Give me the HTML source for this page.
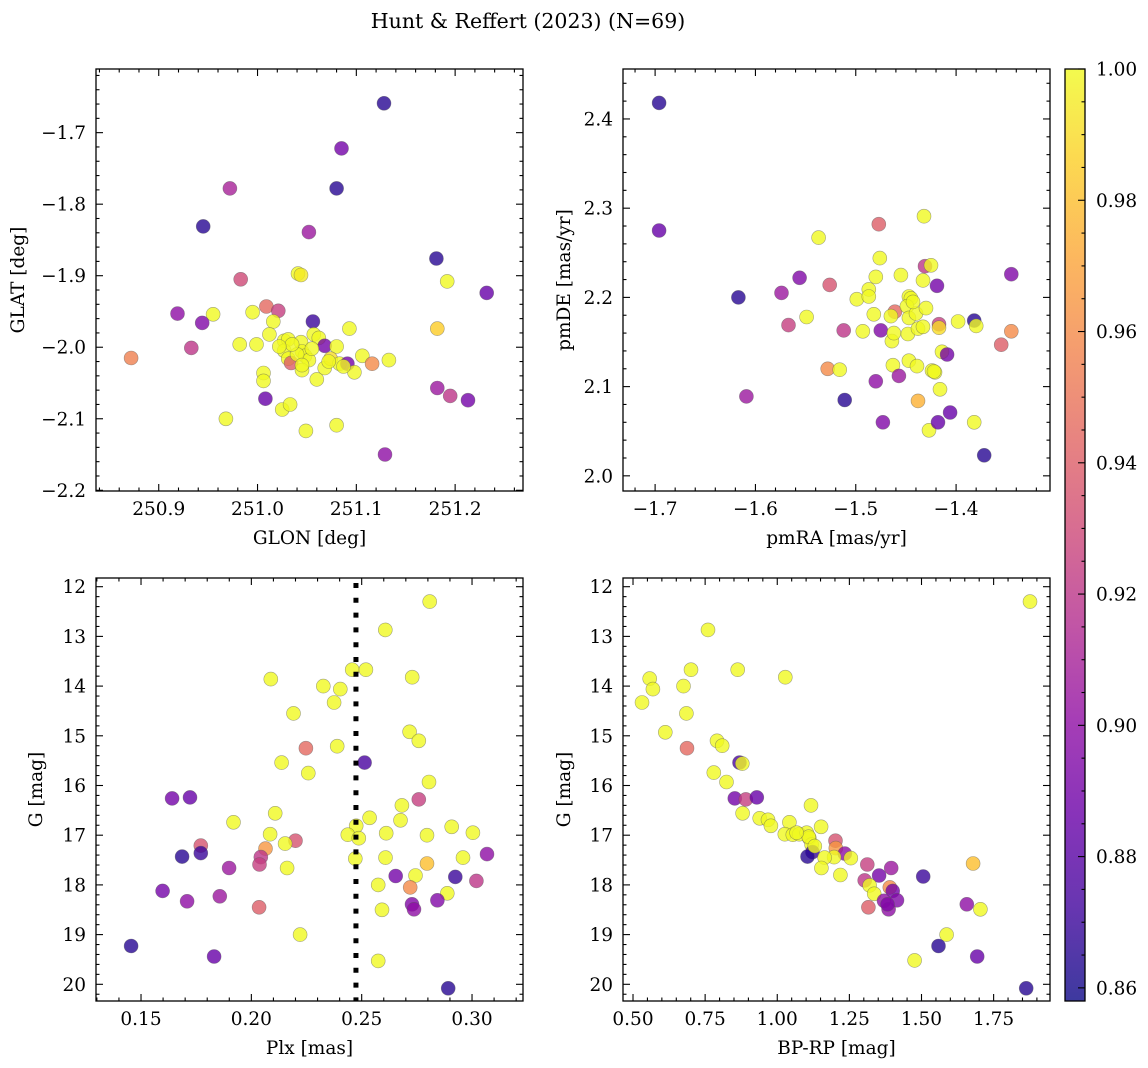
<!DOCTYPE html>
<html><head><meta charset="utf-8"><title>Hunt & Reffert (2023)</title>
<style>
html,body{margin:0;padding:0;background:#fff;}
svg{display:block;font-family:"DejaVu Serif","Liberation Serif",serif;}
</style></head>
<body>
<svg id="fig" width="1148" height="1068" viewBox="0 0 1148 1068" xmlns="http://www.w3.org/2000/svg">
<defs>
<linearGradient id="plasmaGrad" x1="0" y1="1" x2="0" y2="0">
<stop offset="0" stop-color="rgb(13,8,135)"/><stop offset="0.1" stop-color="rgb(65,4,157)"/>
<stop offset="0.2" stop-color="rgb(106,0,168)"/><stop offset="0.3" stop-color="rgb(143,13,164)"/>
<stop offset="0.4" stop-color="rgb(177,42,144)"/><stop offset="0.5" stop-color="rgb(204,71,120)"/>
<stop offset="0.6" stop-color="rgb(225,100,98)"/><stop offset="0.7" stop-color="rgb(242,132,75)"/>
<stop offset="0.8" stop-color="rgb(252,166,54)"/><stop offset="0.9" stop-color="rgb(252,206,37)"/>
<stop offset="1" stop-color="rgb(240,249,33)"/>
</linearGradient>
</defs>
<text x="528" y="28" font-size="20.5" text-anchor="middle">Hunt &amp; Reffert (2023) (N=69)</text>
</svg>
<script>
// ---------- Panel 1: GLON vs GLAT ----------
const p1Lon = [251.128,251.085,251.080,250.972,250.945,251.052,251.181,251.041,251.044,251.192,251.232,250.983,250.919,250.955,250.944,250.995,251.009,251.021,251.016,251.056,251.012,251.093,251.182,250.933,250.872,250.982,250.999,251.027,251.031,251.027,251.044,251.045,251.057,251.062,251.068,251.080,251.031,251.034,251.048,251.052,251.045,251.068,251.074,251.083,251.091,251.098,251.106,251.116,251.133,251.006,251.006,251.060,251.008,251.025,251.033,250.968,251.049,251.080,251.182,251.195,251.213,251.129,251.040,251.055,251.035,251.072,251.045,251.087,251.022];
const p1Lat = [-1.659,-1.722,-1.778,-1.778,-1.831,-1.839,-1.876,-1.897,-1.899,-1.908,-1.924,-1.905,-1.953,-1.954,-1.966,-1.951,-1.943,-1.949,-1.964,-1.964,-1.982,-1.974,-1.974,-2.001,-2.015,-1.996,-1.996,-1.991,-1.989,-2.005,-1.993,-2.006,-1.982,-1.987,-1.998,-1.999,-2.016,-2.022,-2.012,-2.018,-2.032,-2.029,-2.016,-2.023,-2.023,-2.035,-2.012,-2.023,-2.018,-2.036,-2.047,-2.045,-2.072,-2.087,-2.080,-2.100,-2.117,-2.109,-2.057,-2.068,-2.074,-2.150,-2.010,-2.002,-1.996,-2.020,-2.025,-2.027,-1.999];
const p1Prob = [0.865,0.89,0.865,0.91,0.865,0.905,0.865,1,0.995,1,0.885,0.93,0.9,1,0.895,1,0.945,0.925,1,0.87,1,1,0.985,0.92,0.955,1,1,1,1,1,1,1,1,1,0.89,1,1,0.94,1,1,1,1,0.99,1,0.89,1,1,0.96,1,1,1,1,0.885,1,1,1,1,1,0.905,0.92,0.89,0.9,1,1,1,1,1,1,1];
const p1XTicks = [250.9,251.0,251.1,251.2];
const p1XTickLabels = ["250.9","251.0","251.1","251.2"];
const p1YTicks = [-1.7,-1.8,-1.9,-2.0,-2.1,-2.2];
const p1YTickLabels = ["\u22121.7","\u22121.8","\u22121.9","\u22122.0","\u22122.1","\u22122.2"];

// ---------- Panel 2: pmRA vs pmDE ----------
const p2Pmra = [-1.696,-1.696,-1.617,-1.609,-1.574,-1.556,-1.567,-1.549,-1.537,-1.526,-1.528,-1.516,-1.512,-1.511,-1.499,-1.493,-1.487,-1.487,-1.480,-1.482,-1.477,-1.476,-1.475,-1.480,-1.473,-1.461,-1.465,-1.464,-1.462,-1.463,-1.457,-1.455,-1.447,-1.445,-1.449,-1.447,-1.448,-1.447,-1.440,-1.438,-1.439,-1.438,-1.433,-1.430,-1.433,-1.432,-1.431,-1.425,-1.419,-1.417,-1.417,-1.424,-1.421,-1.414,-1.409,-1.416,-1.427,-1.418,-1.406,-1.398,-1.382,-1.380,-1.382,-1.372,-1.355,-1.345,-1.345,-1.422,-1.443];
const p2Pmde = [2.418,2.275,2.200,2.089,2.205,2.222,2.169,2.178,2.267,2.214,2.120,2.119,2.163,2.085,2.198,2.162,2.209,2.201,2.223,2.181,2.282,2.244,2.163,2.106,2.060,2.184,2.179,2.151,2.160,2.124,2.112,2.225,2.201,2.199,2.190,2.177,2.159,2.129,2.182,2.165,2.123,2.084,2.167,2.188,2.219,2.291,2.235,2.236,2.213,2.170,2.166,2.118,2.116,2.139,2.136,2.097,2.051,2.060,2.071,2.173,2.174,2.168,2.060,2.023,2.147,2.162,2.226,2.117,2.195];
const p2Prob = [0.865,0.885,0.865,0.905,0.905,0.895,0.925,1,1,0.935,0.96,1,0.92,0.865,1,1,1,1,1,1,0.94,1,0.895,0.9,0.895,0.945,1,1,1,1,0.905,1,1,1,1,1,1,1,1,1,1,0.975,1,1,1,1,0.92,1,0.89,0.925,0.99,1,1,1,0.89,1,1,0.885,0.885,1,0.865,1,1,0.865,0.94,0.96,0.895,1,1];
const p2XTicks = [-1.7,-1.6,-1.5,-1.4];
const p2XTickLabels = ["\u22121.7","\u22121.6","\u22121.5","\u22121.4"];
const p2YTicks = [2.0,2.1,2.2,2.3,2.4];
const p2YTickLabels = ["2.0","2.1","2.2","2.3","2.4"];

// ---------- Panel 3: Plx vs G ----------
const p3Plx = [0.2808,0.2607,0.2457,0.2519,0.2729,0.2088,0.2326,0.2403,0.2375,0.2191,0.2717,0.2759,0.2247,0.2389,0.2513,0.2137,0.2258,0.2805,0.2759,0.1641,0.1722,0.2682,0.2108,0.2536,0.2676,0.1919,0.2475,0.2908,0.3004,0.2085,0.2437,0.2611,0.2796,0.2487,0.2200,0.2153,0.1771,0.2064,0.1771,0.1686,0.2043,0.2037,0.2471,0.2608,0.2959,0.3068,0.2796,0.1899,0.2162,0.2654,0.2744,0.2924,0.3020,0.2575,0.2720,0.1598,0.1857,0.2888,0.1709,0.2843,0.2728,0.2737,0.2592,0.2035,0.2221,0.1455,0.1831,0.2575,0.2892];
const p3G = [12.30,12.87,13.67,13.67,13.82,13.86,14.00,14.06,14.33,14.55,14.92,15.10,15.25,15.21,15.54,15.54,15.75,15.93,16.28,16.26,16.24,16.40,16.56,16.65,16.70,16.74,16.81,16.83,16.95,16.98,16.99,16.96,17.00,17.06,17.11,17.17,17.21,17.27,17.36,17.43,17.44,17.59,17.47,17.45,17.45,17.38,17.57,17.66,17.66,17.82,17.81,17.84,17.92,18.00,18.05,18.12,18.23,18.17,18.33,18.31,18.39,18.49,18.50,18.45,19.00,19.23,19.44,19.53,20.08];
const p3Prob = [1,1,1,1,1,1,1,1,1,1,1,1,0.945,1,0.875,1,1,1,0.925,0.89,0.885,1,1,1,1,1,1,1,1,1,1,1,1,1,0.935,1,0.935,0.965,0.87,0.865,0.92,0.925,1,1,1,0.9,0.98,0.905,1,0.89,1,0.87,0.92,1,0.96,0.89,0.905,1,0.9,0.895,0.895,0.9,1,0.94,1,0.865,0.885,1,0.865];
const p3Cut = [0.2474];
const p3XTicks = [0.15,0.20,0.25,0.30];
const p3XTickLabels = ["0.15","0.20","0.25","0.30"];
const gTicks = [12,13,14,15,16,17,18,19,20];
const gTickLabels = ["12","13","14","15","16","17","18","19","20"];

// ---------- Panel 4: BP-RP vs G ----------
const p4Col = [1.876,0.760,0.701,0.863,1.028,0.558,0.569,0.675,0.531,0.685,0.612,0.791,0.809,0.687,0.869,0.879,0.780,0.824,0.853,0.891,0.929,1.117,0.880,0.939,0.968,0.978,1.042,1.152,1.026,1.054,1.076,1.102,1.111,1.202,1.119,1.203,1.122,1.105,1.234,1.197,1.255,1.164,1.312,1.153,1.395,1.219,1.353,1.506,1.679,1.303,1.320,1.390,1.400,1.336,1.415,1.370,1.316,1.386,1.657,1.704,1.587,1.559,1.476,1.693,1.863,1.109,1.382,1.067,1.130];
const p4G = [12.30,12.87,13.67,13.67,13.82,13.85,14.06,14.00,14.33,14.55,14.93,15.10,15.20,15.25,15.54,15.56,15.74,15.93,16.26,16.28,16.24,16.40,16.56,16.66,16.69,16.81,16.74,16.83,16.98,16.99,16.98,16.95,17.06,17.11,17.19,17.26,17.34,17.43,17.37,17.44,17.46,17.45,17.59,17.66,17.66,17.80,17.81,17.83,17.57,17.91,18.01,18.05,18.12,18.18,18.31,18.32,18.45,18.49,18.39,18.49,19.00,19.23,19.52,19.44,20.08,17.03,18.39,16.95,17.22];
const p4Prob = [1,1,1,1,1,1,1,1,1,1,1,1,1,0.945,0.875,1,1,1,0.89,0.925,0.885,1,1,1,1,1,1,1,1,1,1,1,1,0.935,1,0.965,0.87,0.865,0.9,1,1,1,0.925,1,0.905,1,0.89,0.87,0.98,0.92,1,0.96,0.89,1,0.895,0.9,0.94,0.9,0.9,1,1,0.865,1,0.885,0.865,1,0.895,1,1];
const p4XTicks = [0.50,0.75,1.00,1.25,1.50,1.75];
const p4XTickLabels = ["0.50","0.75","1.00","1.25","1.50","1.75"];

// ---------- Colorbar ----------
const cbTicks = [0.86,0.88,0.90,0.92,0.94,0.96,0.98,1.00];
const cbTickLabels = ["0.86","0.88","0.90","0.92","0.94","0.96","0.98","1.00"];
const cMin = 0.858, cMax = 1.0;

const NS = "http://www.w3.org/2000/svg";
const fig = document.getElementById('fig');
const FS = 18.5;
function mk(tag, attrs, parent){
  const e = document.createElementNS(NS, tag);
  for (const k in attrs) e.setAttribute(k, attrs[k]);
  (parent||fig).appendChild(e);
  return e;
}
const stops = [[13,8,135],[65,4,157],[106,0,168],[143,13,164],[177,42,144],[204,71,120],[225,100,98],[242,132,75],[252,166,54],[252,206,37],[240,249,33]];
function plasma(v){
  let t = (v - cMin)/(cMax - cMin); t = Math.max(0, Math.min(1, t));
  const f = t*10, i = Math.min(9, Math.floor(f)), r = f - i;
  const a = stops[i], b = stops[i+1];
  return 'rgb(' + [0,1,2].map(k => Math.round(a[k] + (b[k]-a[k])*r)).join(',') + ')';
}
function scale(d0, d1, r0, r1){ return v => r0 + (v - d0)/(d1 - d0)*(r1 - r0); }

function drawPanel(cfg){
  const g = mk('g', {});
  
  
  const sx = scale(cfg.xd[0], cfg.xd[1], cfg.x0, cfg.x1);
  const sy = scale(cfg.yd[0], cfg.yd[1], cfg.y0, cfg.y1);
  const pts = mk('g', {}, g);
  
  
  for (let i = 0; i < cfg.xs.length; i++){
    const c = mk('circle', {cx: sx(cfg.xs[i]).toFixed(1), cy: sy(cfg.ys[i]).toFixed(1), r: 7.0, fill: plasma(cfg.cs[i]), 'fill-opacity': 0.8, stroke: 'rgba(90,90,90,0.55)', 'stroke-width': 0.6}, pts);
    
    
  }
  if (cfg.extra) cfg.extra(g, sx, sy);
  const fr = mk('rect', {x: cfg.x0, y: cfg.y0, width: cfg.x1 - cfg.x0, height: cfg.y1 - cfg.y0, fill: 'none', stroke: '#000', 'stroke-width': 1.3}, g);
  
  
  const tk = mk('g', {stroke: '#000', 'stroke-width': 1.1}, g);
  
  
  const lo = Math.min(cfg.xd[0], cfg.xd[1]), hi = Math.max(cfg.xd[0], cfg.xd[1]);
  for (let v = Math.ceil(lo/cfg.xMinor - 1e-6)*cfg.xMinor; v <= hi + 1e-9; v += cfg.xMinor){
    const x = sx(v); const major = cfg.xTicks.some(t => Math.abs(t - v) < cfg.xMinor/10);
    const L = major ? 7 : 3.5;
    mk('line', {x1: x, x2: x, y1: cfg.y1, y2: cfg.y1 - L}, tk);
    mk('line', {x1: x, x2: x, y1: cfg.y0, y2: cfg.y0 + L}, tk);
  }
  const ylo = Math.min(cfg.yd[0], cfg.yd[1]), yhi = Math.max(cfg.yd[0], cfg.yd[1]);
  for (let v = Math.ceil(ylo/cfg.yMinor - 1e-6)*cfg.yMinor; v <= yhi + 1e-9; v += cfg.yMinor){
    const y = sy(v); const major = cfg.yTicks.some(t => Math.abs(t - v) < cfg.yMinor/10);
    const L = major ? 7 : 3.5;
    mk('line', {x1: cfg.x0, x2: cfg.x0 + L, y1: y, y2: y}, tk);
    mk('line', {x1: cfg.x1, x2: cfg.x1 - L, y1: y, y2: y}, tk);
  }
  cfg.xTicks.forEach((v, i) => {
    const t = mk('text', {x: sx(v), y: cfg.y1 + 24, 'font-size': FS, 'text-anchor': 'middle'}, g);
    t.textContent = cfg.xLabels[i];
    
    
  });
  cfg.yTicks.forEach((v, i) => {
    const t = mk('text', {x: cfg.x0 - 10, y: sy(v) + 6.5, 'font-size': FS, 'text-anchor': 'end'}, g);
    t.textContent = cfg.yLabels[i];
    
    
  });
  const xl = mk('text', {x: (cfg.x0 + cfg.x1)/2, y: cfg.y1 + 53, 'font-size': FS, 'text-anchor': 'middle'}, g);
  xl.textContent = cfg.xTitle;
  
  
  const yc = (cfg.y0 + cfg.y1)/2;
  const yl = mk('text', {x: cfg.yTitleX, y: yc, 'font-size': FS, 'text-anchor': 'middle', transform: 'rotate(-90 ' + cfg.yTitleX + ' ' + yc + ')'}, g);
  yl.textContent = cfg.yTitle;
  
  
}

drawPanel({name: 'glon-glat-panel', x0: 96, x1: 523, y0: 69, y1: 491, xd: [250.8365, 251.2687], yd: [-1.611, -2.201],
  xs: p1Lon, ys: p1Lat, cs: p1Prob, xTicks: p1XTicks, xLabels: p1XTickLabels, yTicks: p1YTicks, yLabels: p1YTickLabels,
  xMinor: 0.02, yMinor: 0.02, xTitle: 'GLON [deg]', yTitle: 'GLAT [deg]', yTitleX: 24});
drawPanel({name: 'proper-motion-panel', x0: 623, x1: 1050, y0: 69, y1: 491, xd: [-1.732, -1.3064], yd: [2.456, 1.983],
  xs: p2Pmra, ys: p2Pmde, cs: p2Prob, xTicks: p2XTicks, xLabels: p2XTickLabels, yTicks: p2YTicks, yLabels: p2YTickLabels,
  xMinor: 0.02, yMinor: 0.02, xTitle: 'pmRA [mas/yr]', yTitle: 'pmDE [mas/yr]', yTitleX: 570});
drawPanel({name: 'parallax-panel', x0: 96, x1: 523, y0: 578, y1: 1001, xd: [0.1296, 0.3231], yd: [11.825, 20.336],
  xs: p3Plx, ys: p3G, cs: p3Prob, xTicks: p3XTicks, xLabels: p3XTickLabels, yTicks: gTicks, yLabels: gTickLabels,
  xMinor: 0.01, yMinor: 0.2, xTitle: 'Plx [mas]', yTitle: 'G [mag]', yTitleX: 42,
  extra: (g, sx, sy) => {
    p3Cut.forEach(v => {
      const l = mk('line', {x1: sx(v), x2: sx(v), y1: 583, y2: 1001, stroke: '#000', 'stroke-width': 5, 'stroke-dasharray': '5 9.8'}, g);
      
      
    });
  }});
drawPanel({name: 'cmd-panel', x0: 623, x1: 1050, y0: 578, y1: 1001, xd: [0.4653, 1.9454], yd: [11.825, 20.336],
  xs: p4Col, ys: p4G, cs: p4Prob, xTicks: p4XTicks, xLabels: p4XTickLabels, yTicks: gTicks, yLabels: gTickLabels,
  xMinor: 0.05, yMinor: 0.2, xTitle: 'BP-RP [mag]', yTitle: 'G [mag]', yTitleX: 570});

(function(){
  const x0 = 1065, x1 = 1085, y0 = 69, y1 = 1001;
  const g = mk('g', {});
  
  
  mk('rect', {x: x0, y: y0, width: x1 - x0, height: y1 - y0, fill: 'url(#plasmaGrad)', 'fill-opacity': 0.8}, g);
  const fr = mk('rect', {x: x0, y: y0, width: x1 - x0, height: y1 - y0, fill: 'none', stroke: '#000', 'stroke-width': 1.3}, g);
  
  
  const sy = scale(cMax, cMin, y0, y1);
  for (let v = 0.86; v <= 1.0001; v += 0.005){
    const major = cbTicks.some(t => Math.abs(t - v) < 0.001);
    mk('line', {x1: x1, x2: x1 - (major ? 7 : 3.5), y1: sy(v), y2: sy(v), stroke: '#000', 'stroke-width': 1.1}, g);
  }
  cbTicks.forEach((v, i) => {
    const t = mk('text', {x: 1096, y: sy(v) + 6.5, 'font-size': FS}, g);
    t.textContent = cbTickLabels[i];
    
    
  });
})();
</script>
</body></html>
